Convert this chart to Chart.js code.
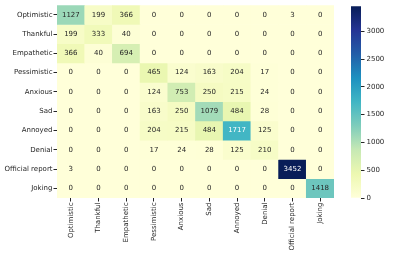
<!DOCTYPE html>
<html>
<head>
<meta charset="utf-8">
<script src="https://cdn.jsdelivr.net/npm/chart.js@4"></script>
<style>
  html, body { margin: 0; padding: 0; background: #fff; }
  #wrap { position: relative; width: 407px; height: 255px; }
  #heat { position: absolute; left: 0; top: 0; }
  #bar { position: absolute; left: 340px; top: 0; }
</style>
</head>
<body>
<div id="wrap">
  <canvas id="heat" width="345" height="255"></canvas>
  <canvas id="bar" width="67" height="255"></canvas>
</div>
<script>
// label kelas (baris = sebenarnya, kolom = prediksi)
const labels = ['Optimistic', 'Thankful', 'Empathetic', 'Pessimistic', 'Anxious',
  'Sad', 'Annoyed', 'Denial', 'Official report', 'Joking'];

const rowOptimistic = [1127, 199, 366, 0, 0, 0, 0, 0, 3, 0];
const rowThankful   = [199, 333, 40, 0, 0, 0, 0, 0, 0, 0];
const rowEmpathetic = [366, 40, 694, 0, 0, 0, 0, 0, 0, 0];
const rowPessimistic = [0, 0, 0, 465, 124, 163, 204, 17, 0, 0];
const rowAnxious    = [0, 0, 0, 124, 753, 250, 215, 24, 0, 0];
const rowSad        = [0, 0, 0, 163, 250, 1079, 484, 28, 0, 0];
const rowAnnoyed    = [0, 0, 0, 204, 215, 484, 1717, 125, 0, 0];
const rowDenial     = [0, 0, 0, 17, 24, 28, 125, 210, 0, 0];
const rowOfficial   = [3, 0, 0, 0, 0, 0, 0, 0, 3452, 0];
const rowJoking     = [0, 0, 0, 0, 0, 0, 0, 0, 0, 1418];

const matrix = [rowOptimistic, rowThankful, rowEmpathetic, rowPessimistic, rowAnxious,
  rowSad, rowAnnoyed, rowDenial, rowOfficial, rowJoking];

const cbarTicks = [0, 500, 1000, 1500, 2000, 2500, 3000];
const vmax = Math.max(...matrix.flat());

// colormap YlGnBu
const ylgnbu = ['#ffffd9', '#edf8b1', '#c7e9b4', '#7fcdbb', '#41b6c4',
  '#1d91c0', '#225ea8', '#253494', '#081d58'];

function hexRgb(h) {
  return [1, 3, 5].map(i => parseInt(h.substr(i, 2), 16));
}

function cmap(t) {
  t = Math.max(0, Math.min(1, t));
  let pos = t * (ylgnbu.length - 1);
  let i = Math.min(Math.floor(pos), ylgnbu.length - 2);
  let f = pos - i;
  let a = hexRgb(ylgnbu[i]), b = hexRgb(ylgnbu[i + 1]);
  return a.map((v, k) => Math.round(v + (b[k] - v) * f));
}

function rgbStr(c) { return `rgb(${c[0]},${c[1]},${c[2]})`; }

// sama seperti seaborn: teks putih kalau sel gelap
function textColor(c) {
  let lin = c.map(v => {
    v = v / 255;
    return v <= 0.03928 ? v / 12.92 : Math.pow((v + 0.055) / 1.055, 2.4);
  });
  let lum = 0.2126 * lin[0] + 0.7152 * lin[1] + 0.0722 * lin[2];
  return lum > 0.408 ? '#262626' : '#ffffff';
}

const FONT = { family: 'DejaVu Sans', size: 7 };
const INK = '#262626';

// tulis angka di tengah tiap sel
const annotate = {
  id: 'annotate',
  afterDatasetsDraw(chart) {
    const ctx = chart.ctx;
    ctx.save();
    ctx.font = `${FONT.size}px "${FONT.family}"`;
    ctx.textAlign = 'center';
    ctx.textBaseline = 'middle';
    chart.data.datasets.forEach((ds, i) => {
      chart.getDatasetMeta(i).data.forEach((el, j) => {
        let v = matrix[i][j];
        ctx.fillStyle = textColor(cmap(v / vmax));
        ctx.fillText(String(v), el.x, (el.y + el.base) / 2);
      });
    });
    ctx.restore();
  }
};

new Chart(document.getElementById('heat'), {
  type: 'bar',
  data: {
    labels: labels,
    datasets: matrix.map((row, i) => ({
      label: labels[i],
      data: row.map(() => 1),
      backgroundColor: row.map(v => rgbStr(cmap(v / vmax))),
      borderWidth: 0,
      barPercentage: 1,
      categoryPercentage: 1,
      stack: 'cm'
    }))
  },
  options: {
    responsive: false,
    animation: false,
    layout: { padding: { left: 0, top: 4, right: 11, bottom: 0 } },
    plugins: { legend: { display: false }, tooltip: { enabled: false } },
    scales: {
      x: {
        stacked: true,
        border: { display: false },
        grid: { display: true, offset: false, drawOnChartArea: false, drawTicks: true, tickLength: 3.5, color: INK },
        ticks: { color: INK, font: FONT, minRotation: 90, maxRotation: 90, padding: 1, autoSkip: false },
        afterFit: s => { s.height = 57; }
      },
      y: {
        stacked: true,
        reverse: true,
        min: 0,
        max: labels.length,
        border: { display: false },
        grid: { display: true, drawOnChartArea: false, drawTicks: true, tickLength: 3.5, color: INK },
        afterBuildTicks: s => { s.ticks = labels.map((_, i) => ({ value: i + 0.5 })); },
        ticks: {
          color: INK, font: FONT, padding: 1, autoSkip: false,
          callback: v => labels[Math.floor(v)]
        },
        afterFit: s => { s.width = 57; }
      }
    }
  },
  plugins: [annotate]
});

// colorbar
new Chart(document.getElementById('bar'), {
  type: 'bar',
  data: {
    labels: [''],
    datasets: [{
      data: [vmax],
      borderWidth: 0,
      barPercentage: 1,
      categoryPercentage: 1,
      backgroundColor: (c) => {
        const chart = c.chart;
        if (!chart.chartArea) return '#ffffd9';
        const y = chart.scales.y;
        const g = chart.ctx.createLinearGradient(0, y.getPixelForValue(0), 0, y.getPixelForValue(vmax));
        ylgnbu.forEach((col, i) => g.addColorStop(i / (ylgnbu.length - 1), col));
        return g;
      }
    }]
  },
  options: {
    responsive: false,
    animation: false,
    layout: { padding: { left: 11, top: 4, right: 0, bottom: 0 } },
    plugins: { legend: { display: false }, tooltip: { enabled: false } },
    scales: {
      x: { display: false, afterFit: s => { s.height = 57; } },
      y: {
        position: 'right',
        min: 0,
        max: vmax,
        border: { display: false },
        grid: { display: true, drawOnChartArea: false, drawTicks: true, tickLength: 3.5, color: INK },
        afterBuildTicks: s => { s.ticks = cbarTicks.map(v => ({ value: v })); },
        ticks: { color: INK, font: FONT, padding: 2, callback: v => String(v) },
        afterFit: s => { s.width = 46; }
      }
    }
  }
});
</script>
</body>
</html>
